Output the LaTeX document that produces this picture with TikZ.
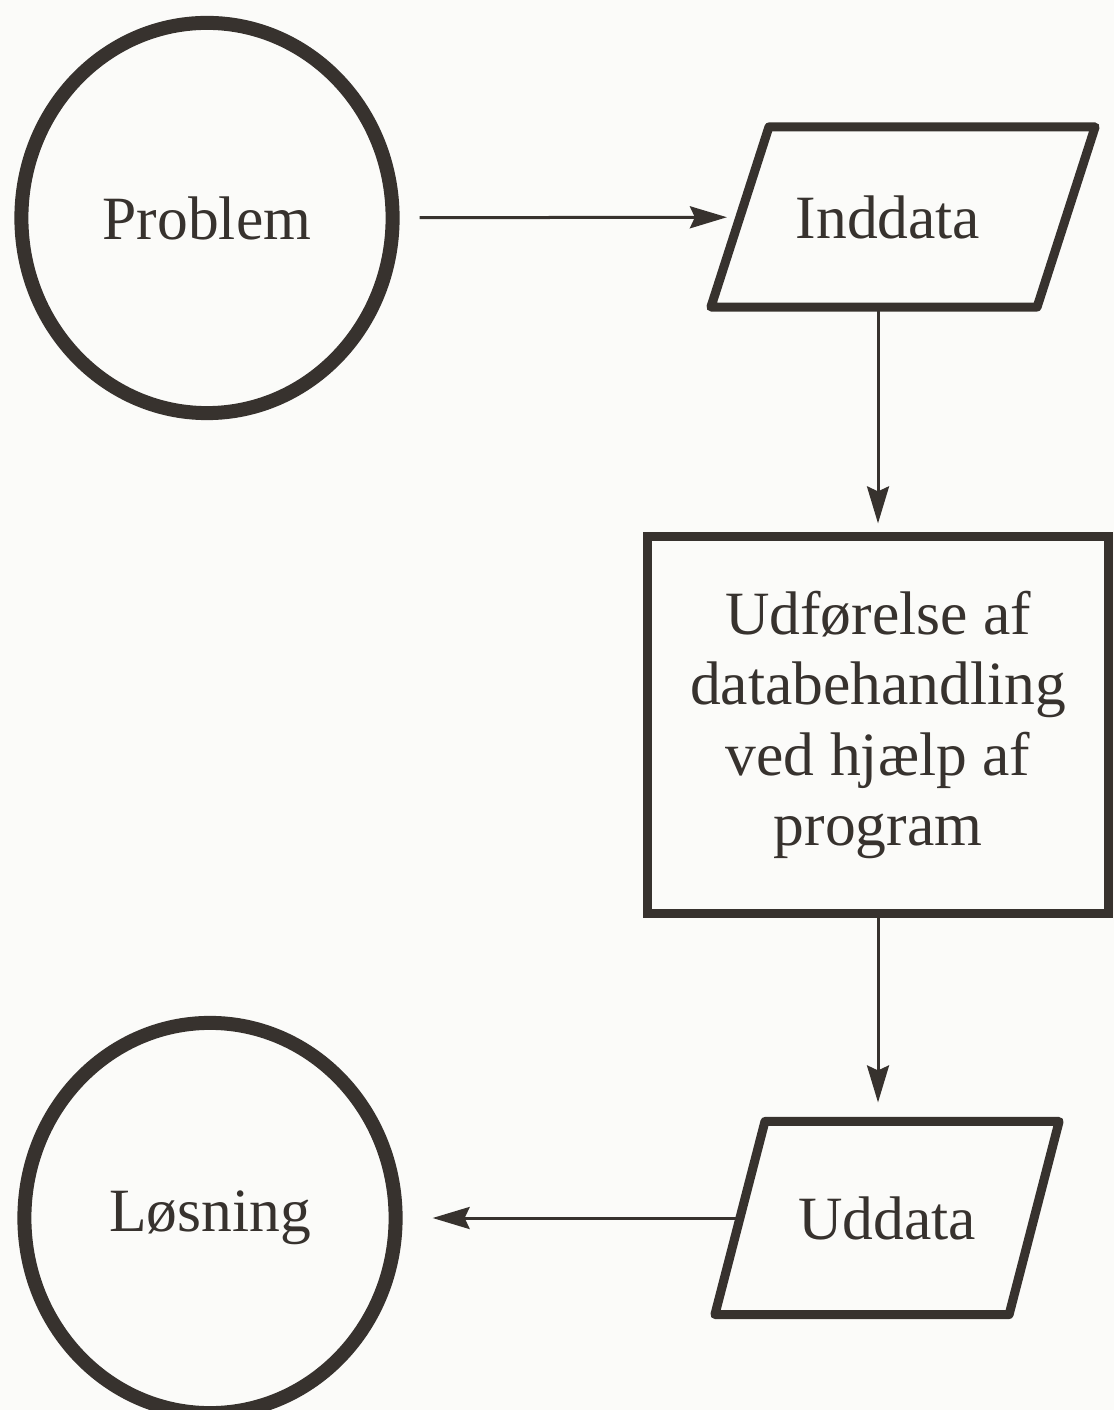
\documentclass[tikz,border=0pt]{standalone}
\usepackage{fontspec}
\setmainfont{Liberation Serif}
\usetikzlibrary{shapes.geometric, arrows.meta, positioning}
\definecolor{ink}{RGB}{55,50,46}
\definecolor{paper}{RGB}{251,251,249}

\begin{document}
\begin{tikzpicture}[x=0.01cm, y=-0.01cm, font=\fontsize{17.5}{20}\selectfont, text=ink]

    % Define style for different elements
    \tikzstyle{terminal} = [ellipse, minimum width=3.71cm, minimum height=3.9cm, draw=ink, line width=0.14cm]
    \tikzstyle{io} = [rectangle, minimum height=1.8cm, inner sep=0pt, outer sep=0pt]
    \tikzstyle{ioline} = [draw=ink, line width=0.09cm, line join=round]
    \tikzstyle{process} = [rectangle, minimum width=4.61cm, minimum height=3.76cm, align=center, draw=ink, line width=0.09cm]
    \tikzstyle{arrow} = [draw=ink, line width=0.03cm, -{Stealth[length=0.37cm, width=0.22cm, inset=0.05cm]}]

    \path[use as bounding box, fill=paper] (0,0) rectangle (1114,1410);

    % Place nodes
    \node (problem) [terminal] at (207,218) {Problem};
    \node (inddata) [io, minimum width=3.26cm] at (903,217) {};
    \node (inddatalabel) at (888,217) {Inddata};
    \node (proc) [process] at (878,725) {Udførelse af\\databehandling\\ved hjælp af\\program};
    \node (uddata) [io, minimum width=2.94cm, minimum height=1.93cm] at (887,1218) {Uddata};
    \node (losning) [terminal] at (210,1218) {Løsning};

    % Draw the slanted in/out boxes
    \draw [ioline] ([xshift=0.29cm]inddata.north west) -- ([xshift=0.29cm]inddata.north east)
        -- ([xshift=-0.29cm]inddata.south east) -- ([xshift=-0.29cm]inddata.south west) -- cycle;
    \draw [ioline] ([xshift=0.25cm]uddata.north west) -- ([xshift=0.25cm]uddata.north east)
        -- ([xshift=-0.25cm]uddata.south east) -- ([xshift=-0.25cm]uddata.south west) -- cycle;

    % Draw arrows
    \draw [arrow, shorten <=0.2cm, shorten >=0.13cm] (problem) -- (inddata);
    \draw [arrow, shorten >=0.09cm] (inddata.south -| proc.north) -- (proc.north);
    \draw [arrow, shorten >=0.19cm] (proc.south) -- (proc.south |- uddata.north);
    \draw [arrow, shorten >=0.3cm] (uddata.west) -- (losning.east);

\end{tikzpicture}
\end{document}
